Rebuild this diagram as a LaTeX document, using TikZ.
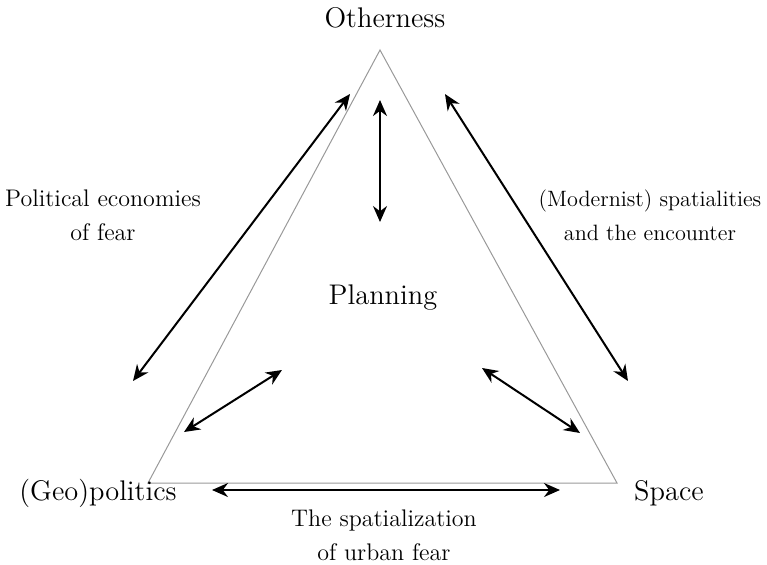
\documentclass[tikz,border=0pt]{standalone}
\usepackage{tikz}
\usetikzlibrary{arrows.meta}

\tikzset{
  lbl/.style={align=center, font=\fontsize{12}{17}\selectfont},
  corner/.style={font=\fontsize{14.2}{17}\selectfont},
  link/.style={<->, >={Stealth[length=8pt,width=7pt]}, line width=1pt},
}

\begin{document}
\begin{tikzpicture}[x=0.5pt, y=-0.5pt]
  \useasboundingbox (0,0) rectangle (767,564);

  % triangle
  \coordinate (top) at (380,50);
  \coordinate (bl) at (148,483);
  \coordinate (br) at (617,483);
  \draw[gray!80, line width=0.5pt] (top) -- (bl) -- (br) -- cycle;

  \node[corner] (other) at (385,18) {Otherness};
  \node[corner] (geo) at (98,493) {(Geo)politics};
  \node[corner] (space) at (669,493) {Space};
  \node[corner] (plan) at (383,298) {Planning};
  \node[lbl] (polec) at (103,215) {Political economies\\of fear};
  \node[lbl, font=\fontsize{11.1}{17}\selectfont] (modern) at (650,215) {(Modernist) spatialities\\and the encounter};
  \node[lbl] (spatial) at (384,535) {The spatialization\\of urban fear};

  % arrow ends
  \coordinate (l1) at (350,94);
  \coordinate (l2) at (133,381);
  \coordinate (r1) at (445,94);
  \coordinate (r2) at (628,381);
  \coordinate (v1) at (380,100);
  \coordinate (v2) at (380,222);
  \coordinate (a1) at (282,370);
  \coordinate (a2) at (184,432);
  \coordinate (b1) at (482,368);
  \coordinate (b2) at (580,433);
  \coordinate (h1) at (212,490);
  \coordinate (h2) at (560,490);

  \draw[link] (l1) -- (l2);
  \draw[link] (r1) -- (r2);
  \draw[link] (v1) -- (v2);
  \draw[link] (a1) -- (a2);
  \draw[link] (b1) -- (b2);
  \draw[link] (h1) -- (h2);
\end{tikzpicture}
\end{document}
